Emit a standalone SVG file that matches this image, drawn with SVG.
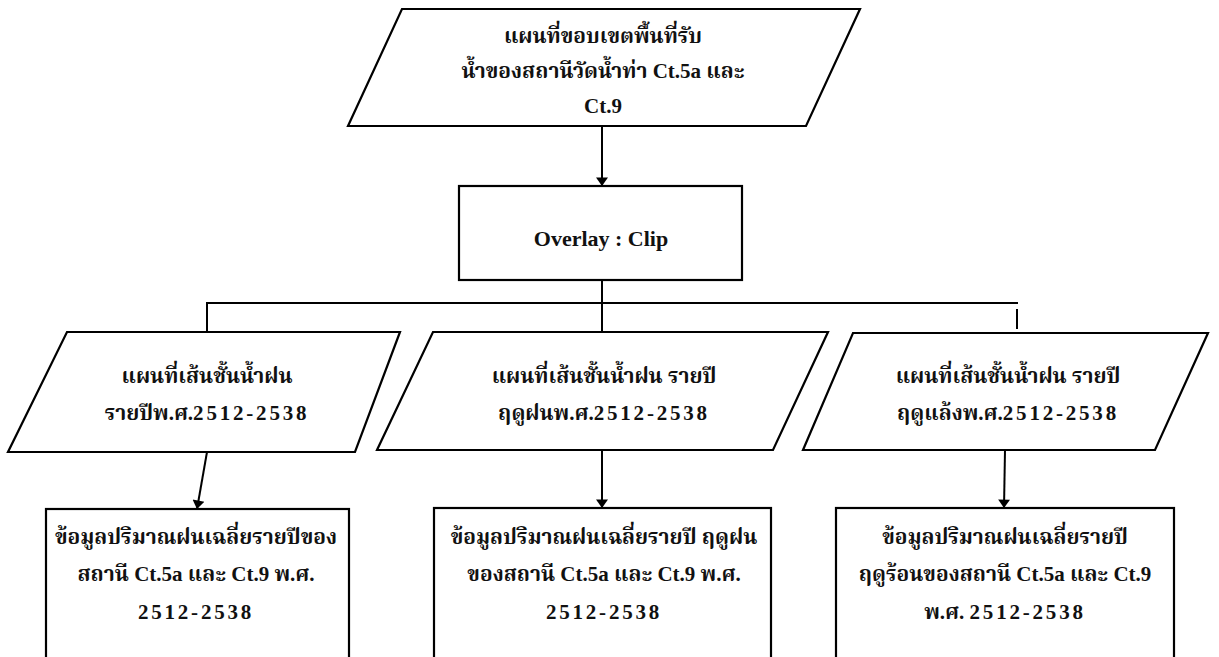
<svg xmlns="http://www.w3.org/2000/svg" width="1219" height="657" viewBox="0 0 1219 657">
<defs>
<marker id="ah" viewBox="0 0 12 17" refX="12" refY="8.5" markerWidth="17" markerHeight="12" markerUnits="userSpaceOnUse" orient="auto">
<path d="M0,0 L12,8.5 L0,17 Z" fill="#000"/>
</marker>
</defs>
<style>
.shape{fill:#fff;stroke:#000;stroke-width:2.2}
.ln{fill:none;stroke:#000;stroke-width:2}
.t{font-family:"Liberation Serif","Norasi","Noto Serif Thai","Noto Sans Thai",serif;font-size:21px;font-weight:bold;fill:#111;text-anchor:middle}
.d{letter-spacing:2.8px}
.ov{font-family:"Liberation Serif",serif;font-size:22px;font-weight:bold;fill:#111;text-anchor:middle}
</style>
<rect width="1219" height="657" fill="#fff"/>
<g id="connectors">
<line class="ln" x1="602" y1="126" x2="602" y2="186" marker-end="url(#ah)"/>
<line class="ln" x1="602" y1="280" x2="602" y2="332"/>
<line class="ln" x1="206" y1="303" x2="1018" y2="303"/>
<line class="ln" x1="207" y1="303" x2="207" y2="332"/>
<line class="ln" x1="1017" y1="309" x2="1017" y2="329"/>
<line class="ln" x1="207" y1="452" x2="197" y2="509" marker-end="url(#ah)"/>
<line class="ln" x1="602" y1="450" x2="602" y2="508" marker-end="url(#ah)"/>
<line class="ln" x1="1005" y1="450" x2="1004" y2="508" marker-end="url(#ah)"/>
</g>
<g id="n-top">
<polygon class="shape" points="402,9 860,9 806,126 348,126"/>
<text class="t" x="603" y="43">แผนที่ขอบเขตพื้นที่รับ</text>
<text class="t" x="603" y="78">น้ำของสถานีวัดน้ำท่า Ct.5a และ</text>
<text class="t" x="603" y="113">Ct.9</text>
</g>
<g id="n-overlay">
<rect class="shape" x="459" y="186" width="283" height="94"/>
<text class="ov" x="601" y="246">Overlay : Clip</text>
</g>
<g id="n-map1">
<polygon class="shape" points="67,332 400,332 355,452 8,452"/>
<text class="t" x="207" y="383">แผนที่เส้นชั้นน้ำฝน</text>
<text class="t" x="207" y="420">รายปีพ.ศ.<tspan class="d">2512-2538</tspan></text>
</g>
<g id="n-map2">
<polygon class="shape" points="433,332 828,332 773,450 377,450"/>
<text class="t" x="604" y="383">แผนที่เส้นชั้นน้ำฝน รายปี</text>
<text class="t" x="604" y="420">ฤดูฝนพ.ศ.<tspan class="d">2512-2538</tspan></text>
</g>
<g id="n-map3">
<polygon class="shape" points="853,333 1208,333 1155,450 803,450"/>
<text class="t" x="1008" y="383">แผนที่เส้นชั้นน้ำฝน รายปี</text>
<text class="t" x="1008" y="420">ฤดูแล้งพ.ศ.<tspan class="d">2512-2538</tspan></text>
</g>
<g id="n-data1">
<rect class="shape" x="46" y="509" width="303" height="170"/>
<text class="t" x="196" y="544">ข้อมูลปริมาณฝนเฉลี่ยรายปีของ</text>
<text class="t" x="196" y="581">สถานี Ct.5a และ Ct.9 พ.ศ.</text>
<text class="t" x="196" y="619"><tspan class="d">2512-2538</tspan></text>
</g>
<g id="n-data2">
<rect class="shape" x="434" y="508" width="337" height="170"/>
<text class="t" x="604" y="544">ข้อมูลปริมาณฝนเฉลี่ยรายปี ฤดูฝน</text>
<text class="t" x="604" y="581">ของสถานี Ct.5a และ Ct.9 พ.ศ.</text>
<text class="t" x="604" y="619"><tspan class="d">2512-2538</tspan></text>
</g>
<g id="n-data3">
<rect class="shape" x="836" y="508" width="338" height="170"/>
<text class="t" x="1005" y="544">ข้อมูลปริมาณฝนเฉลี่ยรายปี</text>
<text class="t" x="1005" y="581">ฤดูร้อนของสถานี Ct.5a และ Ct.9</text>
<text class="t" x="1005" y="619">พ.ศ. <tspan class="d">2512-2538</tspan></text>
</g>
</svg>
